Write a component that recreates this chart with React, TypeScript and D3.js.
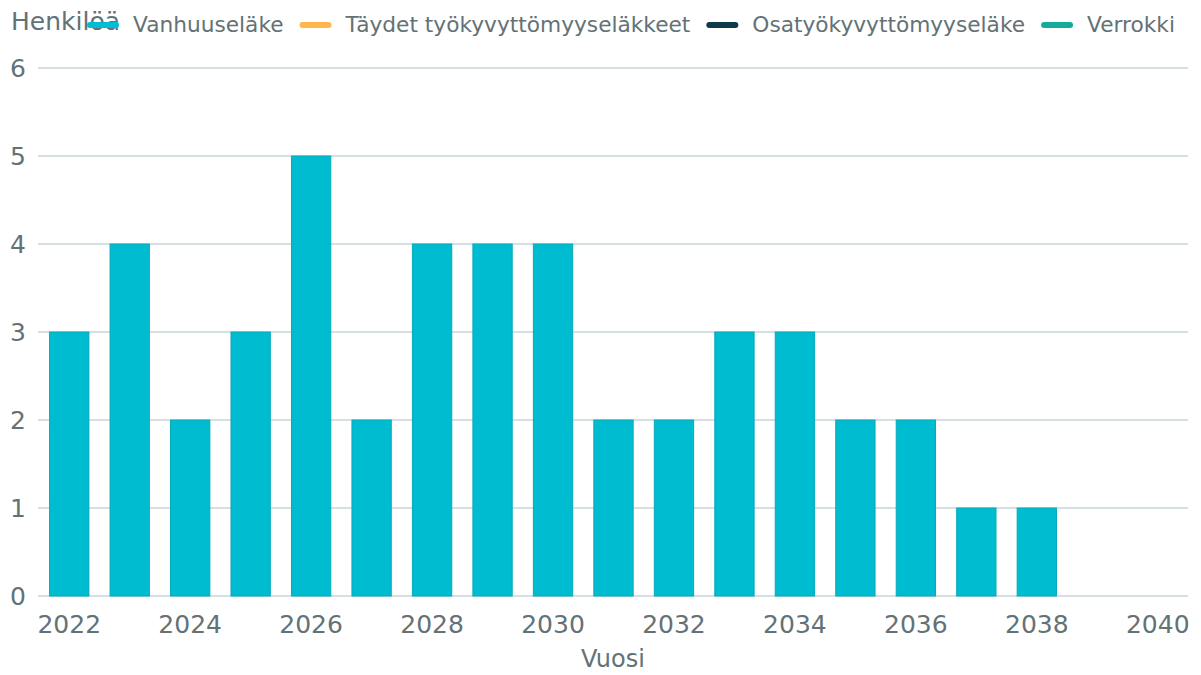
import React, { useRef, useEffect } from "react";
import * as d3 from "d3";

const years = d3.range(2022, 2041);
const values = [3, 4, 2, 3, 5, 2, 4, 4, 4, 2, 2, 3, 3, 2, 2, 1, 1, null, null];
const yTicks = [0, 1, 2, 3, 4, 5, 6];
const legendLabels = ["Vanhuuseläke", "Täydet työkyvyttömyyseläkkeet", "Osatyökyvyttömyyseläke", "Verrokki"];
const legendColors = ["#00bcd4", "#ffb74d", "#0d3b4a", "#13ab9b"];

const App = () => {
  const svgRef = useRef(null);
  const width = 1201;
  const height = 675;

  useEffect(() => {
    const svg = d3.select(svgRef.current);
    svg.selectAll("*").remove();

    const font = "'DejaVu Sans', Verdana, sans-serif";
    const textColor = "#637276";

    const x = d3.scaleBand<number>()
      .domain(years)
      .range([39, 1188])
      .paddingInner(0.35)
      .paddingOuter(0.175);

    const y = d3.scaleLinear().domain([0, 6]).range([596, 68]);

    // gridlines
    svg.append("g")
      .selectAll("line")
      .data(yTicks)
      .enter()
      .append("line")
      .attr("x1", 38)
      .attr("x2", 1188)
      .attr("y1", d => y(d))
      .attr("y2", d => y(d))
      .attr("stroke", "#c9d5da")
      .attr("stroke-width", 1.5);

    // y labels
    svg.append("g")
      .selectAll("text")
      .data(yTicks)
      .enter()
      .append("text")
      .attr("x", 26)
      .attr("y", d => y(d))
      .attr("dy", "0.36em")
      .attr("text-anchor", "end")
      .attr("font-family", font)
      .attr("font-size", 25)
      .attr("fill", textColor)
      .text(d => d);

    // bars
    const barData = years.map((yr, i) => ({ yr, v: values[i] })).filter(d => d.v != null);
    svg.append("g")
      .selectAll("rect")
      .data(barData)
      .enter()
      .append("rect")
      .attr("x", d => x(d.yr)!)
      .attr("y", d => y(d.v as number))
      .attr("width", x.bandwidth())
      .attr("height", d => y(0) - y(d.v as number))
      .attr("fill", "#00bcd1")
      .attr("stroke", "#06a9bb")
      .attr("stroke-width", 1);

    // x labels
    svg.append("g")
      .selectAll("text")
      .data(years.filter(yr => yr % 2 === 0))
      .enter()
      .append("text")
      .attr("x", d => x(d)! + x.bandwidth() / 2)
      .attr("y", 633)
      .attr("text-anchor", "middle")
      .attr("font-family", font)
      .attr("font-size", 25)
      .attr("fill", textColor)
      .text(d => d);

    svg.append("text")
      .attr("x", 613)
      .attr("y", 667)
      .attr("text-anchor", "middle")
      .attr("font-family", font)
      .attr("font-size", 24)
      .attr("fill", textColor)
      .text("Vuosi");

    svg.append("text")
      .attr("x", 11)
      .attr("y", 30)
      .attr("font-family", font)
      .attr("font-size", 25)
      .attr("fill", textColor)
      .text("Henkilöä");

    // legend, laid out left to right
    let cursor = 87;
    legendLabels.forEach((label, i) => {
      const g = svg.append("g").attr("transform", `translate(${cursor},0)`);
      g.append("line")
        .attr("x1", 3)
        .attr("x2", 29)
        .attr("y1", 25)
        .attr("y2", 25)
        .attr("stroke", legendColors[i])
        .attr("stroke-width", 6)
        .attr("stroke-linecap", "round");
      const t = g.append("text")
        .attr("x", 46)
        .attr("y", 32)
        .attr("font-family", font)
        .attr("font-size", 21.7)
        .attr("fill", textColor)
        .text(label);
      const w = (t.node() as SVGTextElement).getComputedTextLength();
      cursor += 46 + w + 16;
    });
  }, []);

  return <svg ref={svgRef} width={width} height={height} style={{ position: "absolute", left: 0, top: 0 }}></svg>;
};

export default App;
